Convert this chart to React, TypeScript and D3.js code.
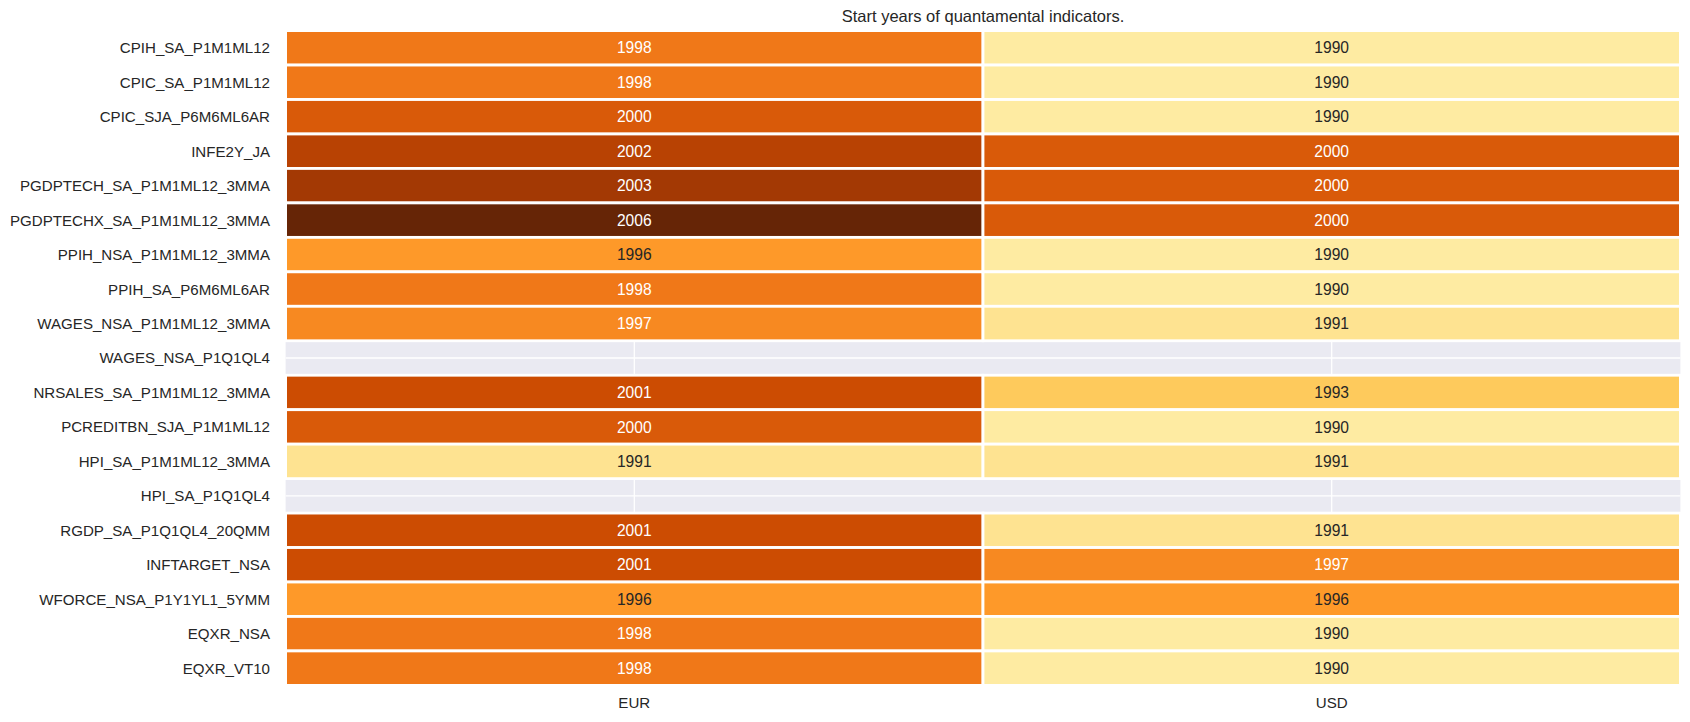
import React from "react";
import * as d3 from "d3";

const title = "Start years of quantamental indicators.";
const currencies = ["EUR", "USD"];
const indicators = [
  "CPIH_SA_P1M1ML12",
  "CPIC_SA_P1M1ML12",
  "CPIC_SJA_P6M6ML6AR",
  "INFE2Y_JA",
  "PGDPTECH_SA_P1M1ML12_3MMA",
  "PGDPTECHX_SA_P1M1ML12_3MMA",
  "PPIH_NSA_P1M1ML12_3MMA",
  "PPIH_SA_P6M6ML6AR",
  "WAGES_NSA_P1M1ML12_3MMA",
  "WAGES_NSA_P1Q1QL4",
  "NRSALES_SA_P1M1ML12_3MMA",
  "PCREDITBN_SJA_P1M1ML12",
  "HPI_SA_P1M1ML12_3MMA",
  "HPI_SA_P1Q1QL4",
  "RGDP_SA_P1Q1QL4_20QMM",
  "INFTARGET_NSA",
  "WFORCE_NSA_P1Y1YL1_5YMM",
  "EQXR_NSA",
  "EQXR_VT10",
];
const eurYears: (number | null)[] = [1998, 1998, 2000, 2002, 2003, 2006, 1996, 1998, 1997, null, 2001, 2000, 1991, null, 2001, 2001, 1996, 1998, 1998];
const usdYears: (number | null)[] = [1990, 1990, 1990, 2000, 2000, 2000, 1990, 1990, 1991, null, 1993, 1990, 1991, null, 1991, 1997, 1996, 1990, 1990];

const ylorbr = ["#ffffe5", "#fff7bc", "#fee391", "#fec44f", "#fe9929", "#ec7014", "#cc4c02", "#993404", "#662506"];
const vmin = 1986;
const vmax = 2006;

const W = 1690;
const H = 722;
const left = 285.6;
const right = 1680.4;
const top = 30.6;
const bottom = 685.4;
const FONT = "'Liberation Sans', Arial, Helvetica, sans-serif";

export default function App() {
  const x = d3.scaleBand<string>().domain(currencies).range([left, right]).padding(0);
  const y = d3.scaleBand<string>().domain(indicators).range([top, bottom]).padding(0);
  const color = d3
    .scaleLinear<string>()
    .domain(ylorbr.map((_, i) => vmin + (i * (vmax - vmin)) / (ylorbr.length - 1)))
    .range(ylorbr)
    .interpolate(d3.interpolateRgb)
    .clamp(true);

  const lum = (c: string) => {
    const r = d3.rgb(c);
    const f = (v: number) => {
      v /= 255;
      return v <= 0.03928 ? v / 12.92 : Math.pow((v + 0.055) / 1.055, 2.4);
    };
    return 0.2126 * f(r.r) + 0.7152 * f(r.g) + 0.0722 * f(r.b);
  };

  const series: Record<string, (number | null)[]> = { EUR: eurYears, USD: usdYears };
  const cells: { c: string; ind: string; v: number | null }[] = [];
  currencies.forEach((c) => indicators.forEach((ind, i) => cells.push({ c, ind, v: series[c][i] })));

  const bw = x.bandwidth();
  const bh = y.bandwidth();

  return (
    <svg width={W} height={H} style={{ position: "absolute", left: 0, top: 0, background: "#fff" }} fontFamily={FONT}>
      <rect x={left} y={top} width={right - left} height={bottom - top} fill="#eaeaf2" />
      {currencies.map((c) => (
        <line key={"gx" + c} x1={x(c)! + bw / 2} x2={x(c)! + bw / 2} y1={top} y2={bottom} stroke="#fff" strokeWidth={1.3} />
      ))}
      {indicators.map((ind) => (
        <line key={"gy" + ind} x1={left} x2={right} y1={y(ind)! + bh / 2} y2={y(ind)! + bh / 2} stroke="#fff" strokeWidth={1.3} />
      ))}
      {cells
        .filter((d) => d.v !== null)
        .map((d) => (
          <rect
            key={"r" + d.c + d.ind}
            x={x(d.c)!}
            y={y(d.ind)!}
            width={bw}
            height={bh}
            fill={color(d.v as number)}
            stroke="#fff"
            strokeWidth={2.8}
          />
        ))}
      {cells
        .filter((d) => d.v !== null)
        .map((d) => {
          const fill = color(d.v as number);
          return (
            <text
              key={"t" + d.c + d.ind}
              x={x(d.c)! + bw / 2}
              y={y(d.ind)! + bh / 2}
              dy="0.36em"
              textAnchor="middle"
              fontSize={15.6}
              fill={lum(fill) > 0.408 ? "#262626" : "#ffffff"}
            >
              {d.v}
            </text>
          );
        })}
      {indicators.map((ind) => (
        <text key={"yl" + ind} x={270} y={y(ind)! + bh / 2} dy="0.36em" textAnchor="end" fontSize={15.1} fill="#262626">
          {ind}
        </text>
      ))}
      {currencies.map((c) => (
        <text key={"xl" + c} x={x(c)! + bw / 2} y={708} textAnchor="middle" fontSize={15.1} fill="#262626">
          {c}
        </text>
      ))}
      <text x={(left + right) / 2} y={21.5} textAnchor="middle" fontSize={16.5} fill="#262626">
        {title}
      </text>
    </svg>
  );
}
